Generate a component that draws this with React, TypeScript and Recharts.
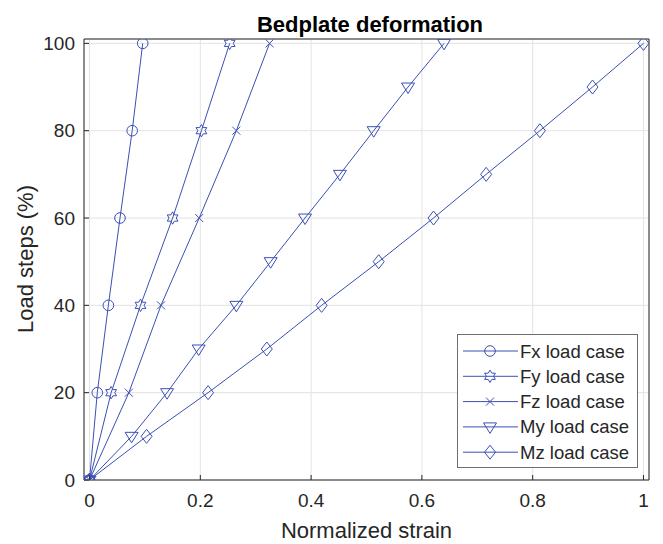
import { LineChart, Line, XAxis, YAxis, CartesianGrid, Legend, Label } from 'recharts'

// load steps (%) for the force and moment cases
const forceSteps = [0, 20, 40, 60, 80, 100]
const momentSteps = [0, 10, 20, 30, 40, 50, 60, 70, 80, 90, 100]

// normalized strain
const fxStrain = [0, 0.014, 0.034, 0.055, 0.077, 0.096]
const fyStrain = [0, 0.039, 0.092, 0.15, 0.202, 0.253]
const fzStrain = [0, 0.071, 0.129, 0.198, 0.265, 0.325]
const myStrain = [0, 0.076, 0.14, 0.197, 0.265, 0.327, 0.389, 0.452, 0.513, 0.575, 0.64]
const mzStrain = [0, 0.103, 0.214, 0.32, 0.419, 0.522, 0.621, 0.716, 0.813, 0.908, 1.0]

const xTicks = [0, 0.2, 0.4, 0.6, 0.8, 1]
const yTicks = [0, 20, 40, 60, 80, 100]

const BLUE = '#3a50b4'
const INK = '#262626'
const FONT = '"Liberation Sans", Arial, Helvetica, sans-serif'

type Shape = 'circle' | 'hexagram' | 'x' | 'triangle' | 'diamond'

const toPoints = (xs: number[], ys: number[]) => xs.map((x, i) => ({ x, y: ys[i] }))

const series: { name: string; shape: Shape; data: { x: number; y: number }[] }[] = [
  { name: 'Fx load case', shape: 'circle', data: toPoints(fxStrain, forceSteps) },
  { name: 'Fy load case', shape: 'hexagram', data: toPoints(fyStrain, forceSteps) },
  { name: 'Fz load case', shape: 'x', data: toPoints(fzStrain, forceSteps) },
  { name: 'My load case', shape: 'triangle', data: toPoints(myStrain, momentSteps) },
  { name: 'Mz load case', shape: 'diamond', data: toPoints(mzStrain, momentSteps) }
]

function Marker({ shape, cx, cy }: { shape: Shape; cx: number; cy: number }) {
  const common = { fill: 'none', stroke: BLUE, strokeWidth: 1 }
  if (shape === 'circle') return <circle cx={cx} cy={cy} r={5.3} {...common} />
  if (shape === 'x') {
    return (
      <path
        d={`M${cx - 4},${cy - 4}L${cx + 4},${cy + 4}M${cx - 4},${cy + 4}L${cx + 4},${cy - 4}`}
        {...common}
      />
    )
  }
  if (shape === 'triangle') {
    return <path d={`M${cx - 6.5},${cy - 4}L${cx + 6.5},${cy - 4}L${cx},${cy + 6.5}Z`} {...common} />
  }
  if (shape === 'diamond') {
    return <path d={`M${cx},${cy - 7}L${cx + 5.5},${cy}L${cx},${cy + 7}L${cx - 5.5},${cy}Z`} {...common} />
  }
  // six-pointed star
  const pts: string[] = []
  for (let k = 0; k < 12; k++) {
    const r = k % 2 === 0 ? 6.2 : 3.6
    const a = (Math.PI / 6) * k - Math.PI / 2
    pts.push(`${(cx + r * Math.cos(a)).toFixed(2)},${(cy + r * Math.sin(a)).toFixed(2)}`)
  }
  return <polygon points={pts.join(' ')} {...common} />
}

function LegendBox() {
  return (
    <svg width={181} height={134} style={{ display: 'block', fontFamily: FONT }}>
      <rect x={0.5} y={0.5} width={180} height={133} fill="#fff" stroke="#6e6e6e" />
      {series.map((s, i) => {
        const cy = 17 + i * 25.3
        return (
          <g key={s.name}>
            <line x1={6} x2={61} y1={cy} y2={cy} stroke={BLUE} strokeWidth={1} />
            <Marker shape={s.shape} cx={33} cy={cy} />
            <text x={63} y={cy + 6.5} fontSize={18.5} fill={INK}>
              {s.name}
            </text>
          </g>
        )
      })}
    </svg>
  )
}

export default function App() {
  return (
    <div style={{ position: 'absolute', left: 0, top: 0, fontFamily: FONT, background: '#fff' }}>
      <LineChart width={663} height={544} margin={{ top: 38, right: 13, bottom: 0, left: 0 }}>
        <CartesianGrid stroke="#e3e3e3" strokeWidth={1} xAxisId="bottom" yAxisId="left" />
        <XAxis
          xAxisId="bottom"
          dataKey="x"
          type="number"
          domain={[-0.01, 1.01]}
          ticks={xTicks}
          height={64}
          stroke={INK}
          tickSize={-5}
          tickMargin={19}
          tick={{ fontSize: 19, fill: INK }}
          allowDataOverflow
        >
          <Label value="Normalized strain" position="insideBottom" offset={6} fontSize={22} fill={INK} />
        </XAxis>
        <XAxis
          xAxisId="top"
          orientation="top"
          dataKey="x"
          type="number"
          domain={[-0.01, 1.01]}
          ticks={xTicks}
          height={1}
          stroke={INK}
          tickSize={-5}
          tick={false}
          allowDataOverflow
        >
          <Label
            content={() => (
              <text x={370} y={32} textAnchor="middle" fontSize={22} fontWeight="bold" fill="#000">
                Bedplate deformation
              </text>
            )}
          />
        </XAxis>
        <YAxis
          yAxisId="left"
          type="number"
          domain={[0, 101]}
          ticks={yTicks}
          width={84}
          stroke={INK}
          tickSize={-5}
          tickMargin={14}
          tick={{ fontSize: 19, fill: INK }}
          allowDataOverflow
        >
          <Label
            content={() => (
              <text x={33} y={259} transform="rotate(-90, 33, 259)" textAnchor="middle" fontSize={22} fill={INK}>
                Load steps (%)
              </text>
            )}
          />
        </YAxis>
        <YAxis
          yAxisId="right"
          orientation="right"
          type="number"
          domain={[0, 101]}
          ticks={yTicks}
          width={1}
          stroke={INK}
          tickSize={-5}
          tick={false}
          allowDataOverflow
        />
        <Legend
          layout="vertical"
          align="center"
          verticalAlign="middle"
          wrapperStyle={{ left: 457, top: 334, width: 181, height: 134 }}
          content={() => <LegendBox />}
        />
        {/* invisible copy so the top and right frame axes have a series */}
        <Line
          data={series[4].data}
          dataKey="y"
          xAxisId="top"
          yAxisId="right"
          stroke="none"
          dot={false}
          activeDot={false}
          legendType="none"
          isAnimationActive={false}
        />
        {series.map(s => (
          <Line
            key={s.name}
            name={s.name}
            data={s.data}
            dataKey="y"
            xAxisId="bottom"
            yAxisId="left"
            type="linear"
            stroke={BLUE}
            strokeWidth={1}
            isAnimationActive={false}
            activeDot={false}
            dot={(p: any) => <Marker key={`${s.name}-${p.index}`} shape={s.shape} cx={p.cx} cy={p.cy} />}
          />
        ))}
      </LineChart>
    </div>
  )
}
